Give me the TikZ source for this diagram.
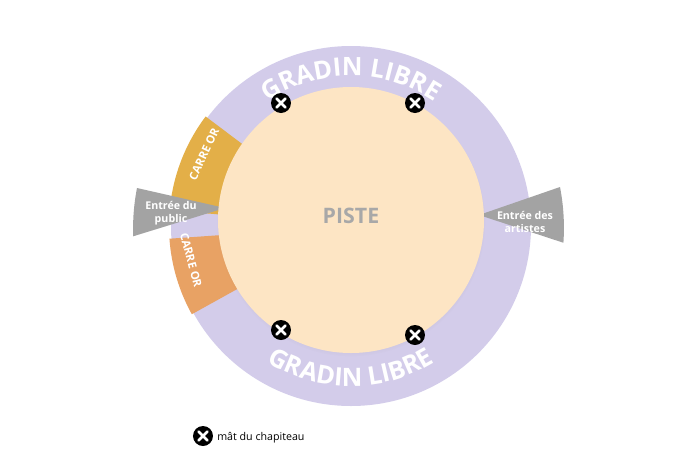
\documentclass[tikz,border=0pt]{standalone}
\usepackage{fontspec}
\setmainfont{Open Sans}
\usetikzlibrary{decorations.text,shadows}
\definecolor{gradin}{HTML}{D3CCEA}
\definecolor{piste}{HTML}{FDE5C4}
\definecolor{orhaut}{HTML}{E3AF48}
\definecolor{orbas}{HTML}{E8A264}
\definecolor{entree}{HTML}{A3A3A3}
\definecolor{pistetxt}{HTML}{A8A8A8}
\tikzset{
  mast/.style={circle,fill=black,minimum size=15pt,inner sep=0pt,
    path picture={\draw[white,line width=2pt,line cap=round]
      ([shift={(-3.3pt,-3.3pt)}]path picture bounding box.center) -- ([shift={(3.3pt,3.3pt)}]path picture bounding box.center)
      ([shift={(-3.3pt,3.3pt)}]path picture bounding box.center) -- ([shift={(3.3pt,-3.3pt)}]path picture bounding box.center);}},
  entreetxt/.style={text=white,font=\bfseries\fontsize{8}{9.5}\selectfont,align=center,inner sep=0.75pt},
  ortxt/.style={text=white,font=\bfseries\fontsize{8.5}{9}\selectfont,inner sep=0.75pt},
  gradintxt/.style={decorate,decoration={text along path,text align=center,
    text={|\bfseries\fontsize{19}{19}\selectfont\color{white}|GRADIN LIBRE}}}
}
\begin{document}
\begin{tikzpicture}[x=0.75pt,y=0.75pt]
\useasboundingbox (-351,-246) rectangle (334,226);

%Gradin
\fill[gradin] (0,0) circle (180);
%Carre or
\fill[orhaut] (0,0) -- (143:182) arc[start angle=143,end angle=175,radius=182] -- cycle;
\fill[orbas] (0,0) -- (184:182) arc[start angle=184,end angle=209,radius=182] -- cycle;
%Entrees
\fill[entree] (-126,18) -- (-214,38) arc[start angle=169,end angle=182,radius=214] -- cycle;
\fill[entree] (128,11) -- (209,39) arc[start angle=11,end angle=-4,radius=214] -- cycle;
%Piste
\fill[piste,circular drop shadow={shadow xshift=0pt,shadow yshift=-1.5pt,opacity=.25,shadow scale=1.01}] (0,6) circle (133);
\node[text=pistetxt,font=\bfseries\fontsize{16}{16}\selectfont] (piste) at (0,10) {PISTE};

%Gradin text
\path[gradintxt] (150:150) arc[start angle=150,end angle=30,radius=150];
\path[gradintxt] (224:160) arc[start angle=224,end angle=316,radius=160];

% Text Node
\node[ortxt,rotate=65] (or1) at (-147,72) {CARRE OR};
\node[ortxt,rotate=-75] (or2) at (-160,-34) {CARRE OR};
\node[entreetxt] (pub) at (-180,13) {Entrée du\\public};
\node[entreetxt] (art) at (174,4) {Entrée des\\artistes};

%Mats
\node[mast] (m1) at (-70,123) {};
\node[mast] (m2) at (64,123) {};
\node[mast] (m3) at (-70,-104) {};
\node[mast] (m4) at (64,-109) {};

%Legende
\node[mast] (leg) at (-148,-210) {};
\node[anchor=west,font=\fontsize{8}{10}\selectfont,inner sep=0.75pt] (legtxt) at (-135,-212) {mât du chapiteau};
\end{tikzpicture}
\end{document}
